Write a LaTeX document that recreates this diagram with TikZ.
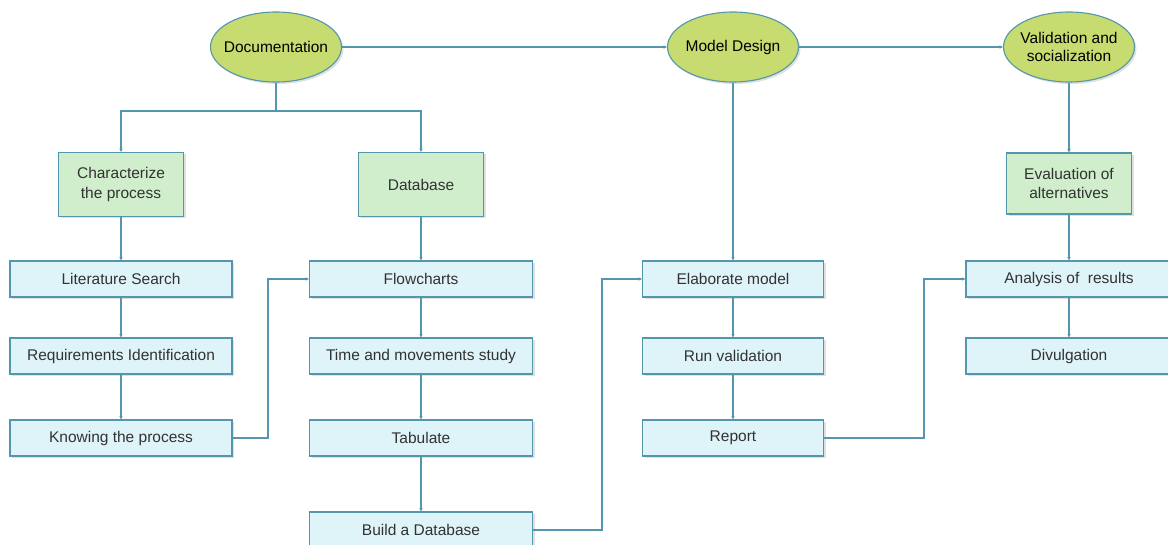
\documentclass[tikz,border=0pt]{standalone}
\usepackage{fontspec}
\setmainfont{Liberation Sans}
\usetikzlibrary{shapes.geometric,arrows.meta,shadows}
\definecolor{linec}{RGB}{84,150,172}
\definecolor{bluef}{RGB}{222,244,249}
\definecolor{greenf}{RGB}{208,238,204}
\definecolor{ellf}{RGB}{198,219,112}
\definecolor{txt}{RGB}{50,50,50}
\tikzset{
  shadowed/.style={drop shadow={shadow xshift=2pt,shadow yshift=-2pt,fill=black!12,opacity=1}},
  phase/.style={ellipse,draw=linec,line width=1.1pt,fill=ellf,minimum width=131pt,minimum height=70pt,inner xsep=-8pt,inner ysep=0pt,align=center,font=\fontsize{15.5}{18.5}\selectfont,text=black,shadowed},
  greenbox/.style={rectangle,draw=linec,line width=1.1pt,fill=greenf,minimum width=125pt,minimum height=64pt,inner sep=0pt,align=center,font=\fontsize{15.5}{19.5}\selectfont,text=txt,shadowed},
  bluebox/.style={rectangle,draw=linec,line width=1.1pt,fill=bluef,minimum width=222pt,minimum height=36pt,inner sep=0pt,align=center,font=\fontsize{15.5}{18}\selectfont,text=txt,shadowed},
  conn/.style={draw=linec,line width=1.1pt,-{Stealth[length=3.5pt,width=3.5pt]}},
  rail/.style={draw=linec,line width=1.1pt}
}
\begin{document}
\begin{tikzpicture}[x=1pt,y=-1pt]
\useasboundingbox (0,0) rectangle (1168,545);
% phases
\node[phase] (doc) at (276,47) {Documentation};
\node[phase] (md) at (733,47) {Model Design};
\node[phase] (val) at (1069,47) {Validation and\\socialization};
% green boxes
\node[greenbox] (char) at (121,184.5) {Characterize\\the process};
\node[greenbox] (db) at (421,184.5) {Database};
\node[greenbox,minimum height=61pt] (eval) at (1069,183.5) {Evaluation of\\alternatives};
% blue boxes column 1
\node[bluebox] (lit) at (121,279) {Literature Search};
\node[bluebox] (req) at (121,356) {Requirements Identification};
\node[bluebox] (know) at (121,438) {Knowing the process};
% column 2
\node[bluebox,minimum width=223pt] (flow) at (421,279) {Flowcharts};
\node[bluebox,minimum width=223pt] (time) at (421,356) {Time and movements study};
\node[bluebox,minimum width=223pt] (tab) at (421,438) {Tabulate};
\node[bluebox,minimum width=223pt] (build) at (421,530) {Build a Database};
% column 3
\node[bluebox,minimum width=181pt] (elab) at (733,279) {Elaborate model};
\node[bluebox,minimum width=181pt] (run) at (733,356) {Run validation};
\node[bluebox,minimum width=181pt] (rep) at (733,438) {Report};
% column 4
\node[bluebox,minimum width=206pt] (ana) at (1069,279) {Analysis of\ \ results};
\node[bluebox,minimum width=206pt] (div) at (1069,356) {Divulgation};
% coordinates
\coordinate (rail) at (276,111);
% top connectors
\draw[conn] (doc.east) -- (md.west);
\draw[conn] (md.east) -- (val.west);
\draw[rail] (doc.south) -- (rail);
\draw[conn] (rail) -| (char.north);
\draw[conn] (rail) -| (db.north);
% column 1
\draw[conn] (char) -- (lit);
\draw[conn] (lit) -- (req);
\draw[conn] (req) -- (know);
\draw[conn] (know.east) -- (268,438) |- (flow.west);
% column 2
\draw[conn] (db) -- (flow);
\draw[conn] (flow) -- (time);
\draw[conn] (time) -- (tab);
\draw[conn] (tab) -- (build);
\draw[conn] (build.east) -- (602,530) |- (elab.west);
% column 3
\draw[conn] (md.south) -- (elab.north);
\draw[conn] (elab) -- (run);
\draw[conn] (run) -- (rep);
\draw[conn] (rep.east) -- (924,438) |- (ana.west);
% column 4
\draw[conn] (val.south) -- (eval.north);
\draw[conn] (eval) -- (ana);
\draw[conn] (ana) -- (div);
\end{tikzpicture}
\end{document}
